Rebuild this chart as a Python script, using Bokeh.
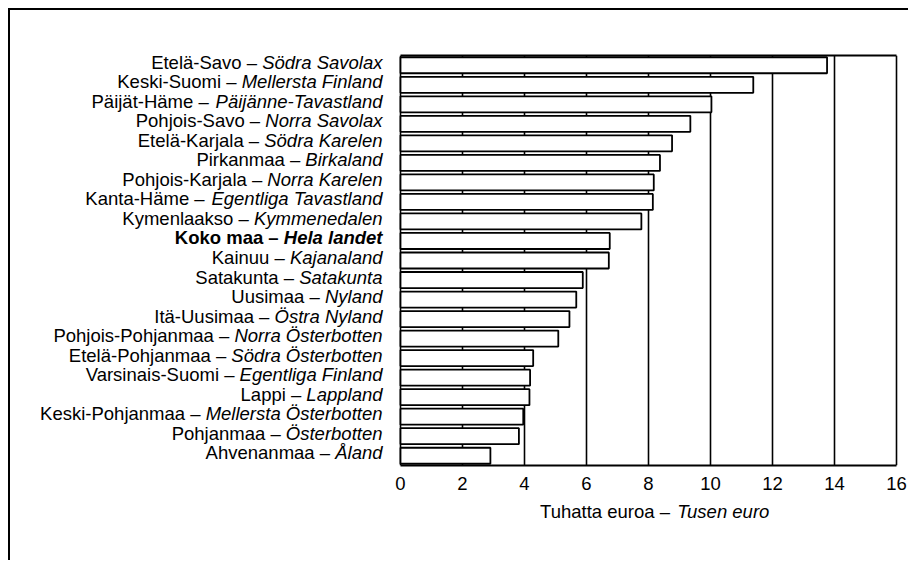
from bokeh.plotting import figure
from bokeh.models import (ColumnDataSource, FactorRange, Range1d, FixedTicker, Label,
                          LinearAxis)
from bokeh.core.properties import value
from bokeh.embed import file_html
from bokeh.resources import INLINE

# ---- data ----
regions_fi = ["Etelä-Savo", "Keski-Suomi", "Päijät-Häme", "Pohjois-Savo", "Etelä-Karjala",
              "Pirkanmaa", "Pohjois-Karjala", "Kanta-Häme", "Kymenlaakso", "Koko maa",
              "Kainuu", "Satakunta", "Uusimaa", "Itä-Uusimaa", "Pohjois-Pohjanmaa",
              "Etelä-Pohjanmaa", "Varsinais-Suomi", "Lappi", "Keski-Pohjanmaa", "Pohjanmaa",
              "Ahvenanmaa"]
regions_sv = ["Södra Savolax", "Mellersta Finland", "Päijänne-Tavastland", "Norra Savolax",
              "Södra Karelen", "Birkaland", "Norra Karelen", "Egentliga Tavastland",
              "Kymmenedalen", "Hela landet", "Kajanaland", "Satakunta", "Nyland",
              "Östra Nyland", "Norra Österbotten", "Södra Österbotten", "Egentliga Finland",
              "Lappland", "Mellersta Österbotten", "Österbotten", "Åland"]
values = [13.76, 11.38, 10.03, 9.35, 8.76, 8.37, 8.17, 8.14, 7.77, 6.75, 6.72,
          5.88, 5.67, 5.45, 5.09, 4.28, 4.18, 4.16, 3.96, 3.82, 2.9]
bold_rows = ["Koko maa"]
x_ticks = [0, 2, 4, 6, 8, 10, 12, 14, 16]
x_title_fi = "Tuhatta euroa –"
x_title_sv = "Tusen euro"

FONT = "Liberation Sans"
FPX = 18.5

# Helvetica/Arial advance widths (1/1000 em) used to place mixed-style labels
_REG = dict(zip("ABCDEFGHIJKLMNOPQRSTUVWXYZ",
                [667, 667, 722, 722, 667, 611, 778, 722, 278, 500, 667, 556, 833, 722, 778, 667, 778, 722, 667, 611, 722, 667, 944, 667, 667, 611]))
_REG.update(zip("abcdefghijklmnopqrstuvwxyz",
                [556, 556, 500, 556, 556, 278, 556, 556, 222, 222, 500, 222, 833, 556, 556, 556, 556, 333, 500, 278, 556, 500, 722, 500, 500, 500]))
_BOLD = dict(zip("ABCDEFGHIJKLMNOPQRSTUVWXYZ",
                 [722, 722, 722, 722, 667, 611, 778, 722, 278, 556, 722, 611, 833, 722, 778, 667, 778, 722, 667, 611, 722, 667, 944, 667, 667, 611]))
_BOLD.update(zip("abcdefghijklmnopqrstuvwxyz",
                 [556, 611, 556, 611, 556, 333, 611, 611, 278, 278, 556, 278, 889, 611, 611, 611, 611, 389, 556, 333, 611, 556, 778, 556, 556, 500]))
_REG.update({" ": 278, "-": 333, "–": 556, "ä": 556, "ö": 556, "Ä": 667, "Ö": 778, "Å": 667})
_BOLD.update({" ": 278, "-": 333, "–": 556, "ä": 556, "ö": 611, "Ä": 722, "Ö": 778, "Å": 722})


def tw(s, bold=False):
    tab = _BOLD if bold else _REG
    return sum(tab.get(c, 556) for c in s) / 1000.0 * FPX


GAP = 18
src = ColumnDataSource(dict(
    fi=regions_fi, val=values, x0=[0] * len(values),
    fi_text=[f + " –" for f in regions_fi],
    fi_off=[-GAP - tw(" " + s, f in bold_rows) for f, s in zip(regions_fi, regions_sv)],
    sv=regions_sv,
    sv_off=[-GAP] * len(values),
    fi_style=["bold" if f in bold_rows else "normal" for f in regions_fi],
    sv_style=["bold italic" if f in bold_rows else "italic" for f in regions_fi],
))
factors = list(reversed(regions_fi))

# frame: labels area (390 px) + bar area (496 px for 0..16) + 2 px so the 16-line shows
LABEL_PX, BAR_PX, PAD_PX = 390, 496, 2
px_per_unit = BAR_PX / x_ticks[-1]
x_start = -LABEL_PX / px_per_unit
x_end = x_ticks[-1] + PAD_PX / px_per_unit

p = figure(width=900, height=552, output_backend="svg", toolbar_location=None,
           y_range=FactorRange(factors=factors, range_padding=0),
           x_range=Range1d(x_start, x_end),
           min_border_left=0, min_border_right=900 - LABEL_PX - BAR_PX - PAD_PX,
           min_border_top=45, min_border_bottom=97)
p.styles = {"border-top": "2px solid black", "border-left": "2px solid black",
            "margin-top": "8px", "margin-left": "8px"}

p.hbar(y="fi", left="x0", right="val", height=0.82, source=src,
       fill_color="white", line_color="black", line_width=1.8)

p.yaxis.visible = False
p.ygrid.visible = False
p.outline_line_color = None
p.background_fill_color = "white"
p.border_fill_color = "white"

p.xgrid.ticker = FixedTicker(ticks=x_ticks)
p.xgrid.grid_line_color = "black"
p.xgrid.grid_line_width = 1.6
p.xgrid.grid_line_alpha = 1.0

ax = p.xaxis[0]
ax.ticker = FixedTicker(ticks=x_ticks)
ax.bounds = (x_ticks[0], x_ticks[-1])
ax.axis_line_color = "black"
ax.axis_line_width = 1.8
ax.major_tick_line_color = None
ax.minor_tick_line_color = None
ax.major_tick_out = 0
ax.major_tick_in = 0
ax.major_label_standoff = 11
ax.major_label_text_font = FONT
ax.major_label_text_font_size = f"{FPX}px"
ax.major_label_text_color = "black"

top = LinearAxis(ticker=FixedTicker(ticks=[]), bounds=(x_ticks[0], x_ticks[-1]),
                 axis_line_color="black", axis_line_width=1.8,
                 major_tick_line_color=None, minor_tick_line_color=None,
                 major_tick_out=0, major_tick_in=0, major_label_text_font_size="0px")
p.add_layout(top, "above")

# category labels: upright Finnish name + italic Swedish name
LBL_DY = -3
p.text(x="x0", y="fi", text="fi_text", x_offset="fi_off", y_offset=LBL_DY, source=src,
       text_align="right", text_baseline="middle", text_font=value(FONT),
       text_font_size=value(f"{FPX}px"), text_font_style="fi_style", text_color="black")
p.text(x="x0", y="fi", text="sv", x_offset="sv_off", y_offset=LBL_DY, source=src,
       text_align="right", text_baseline="middle", text_font=value(FONT),
       text_font_size=value(f"{FPX}px"), text_font_style="sv_style", text_color="black")

# axis title with mixed upright / italic parts (in the panel below the axis)
W = tw(x_title_fi + " " + x_title_sv)
TX = 8.2
p.add_layout(Label(x=TX, y=0, x_offset=-W / 2, y_offset=-46, text=x_title_fi,
                   text_align="left", text_baseline="middle", text_font=FONT,
                   text_font_size=f"{FPX}px", text_color="black"), "below")
p.add_layout(Label(x=TX, y=0, x_offset=W / 2, y_offset=-46, text=x_title_sv,
                   text_align="right", text_baseline="middle", text_font=FONT,
                   text_font_size=f"{FPX}px", text_font_style="italic",
                   text_color="black"), "below")

open("out.html", "w").write(file_html(p, INLINE))
